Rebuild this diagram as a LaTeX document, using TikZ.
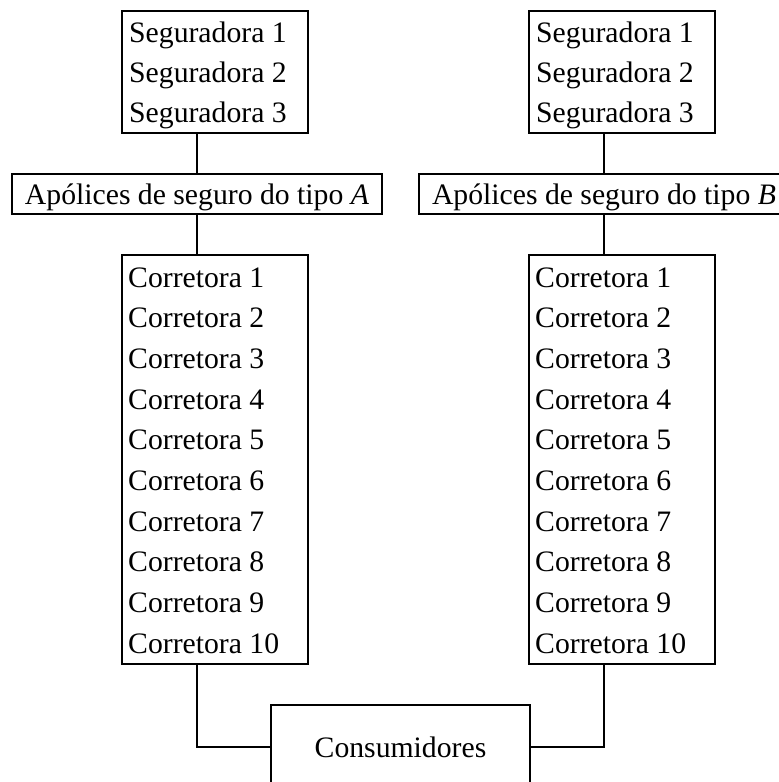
\documentclass[tikz,border=0pt]{standalone}
\usepackage{fontspec}
\setmainfont{Liberation Serif}
\begin{document}
\begin{tikzpicture}[x=1pt,y=-1pt,
  box/.style={draw, line width=2.6pt, inner sep=0pt, minimum width=186pt},
  lbl/.style={font=\fontsize{29.7}{35}\selectfont, inner sep=0pt, anchor=base west},
  pol/.style={draw, line width=2.6pt, inner xsep=0pt, inner ysep=0pt, minimum width=370pt,
    text height=30pt, text depth=10pt, font=\fontsize{29.7}{35}\selectfont},
  consbox/.style={draw, line width=2.6pt, inner xsep=0pt, inner ysep=0pt, minimum width=259pt,
    text height=52pt, text depth=32pt, font=\fontsize{29.7}{35}\selectfont},
  wire/.style={line width=2.6pt}]
\useasboundingbox (0,0) rectangle (779,782);
\clip (0,0) rectangle (779,782);

% boxes
\node[box, minimum height=122pt] (segA) at (215,72) {};
\node[box, minimum height=122pt] (segB) at (622,72) {};
\node[pol] (polA) at (197,194) {Apólices de seguro do tipo \textit{A}};
\node[pol] (polB) at (604,194) {Apólices de seguro do tipo \textit{B}};
\node[box, minimum height=409pt] (corA) at (215,459.5) {};
\node[box, minimum height=409pt] (corB) at (622,459.5) {};
\node[consbox] (cons) at (400.5,747) {Consumidores};

% texts
\foreach \i in {1,2,3}{
  \node[lbl] (sA\i) at (129,{42+40*(\i-1)}) {Seguradora \i};
  \node[lbl] (sB\i) at (536,{42+40*(\i-1)}) {Seguradora \i};
}
\foreach \i in {1,...,10}{
  \node[lbl] (cA\i) at (128,{287+40.67*(\i-1)}) {Corretora \i};
  \node[lbl] (cB\i) at (535,{287+40.67*(\i-1)}) {Corretora \i};
}

% connectors
\draw[wire] (segA.south -| polA.north) -- (polA.north);
\draw[wire] (polA.south) -- (polA.south |- corA.north);
\draw[wire] (corA.south -| polA.south) |- (cons.west);
\draw[wire] (segB.south -| polB.north) -- (polB.north);
\draw[wire] (polB.south) -- (polB.south |- corB.north);
\draw[wire] (corB.south -| polB.south) |- (cons.east);
\end{tikzpicture}
\end{document}
